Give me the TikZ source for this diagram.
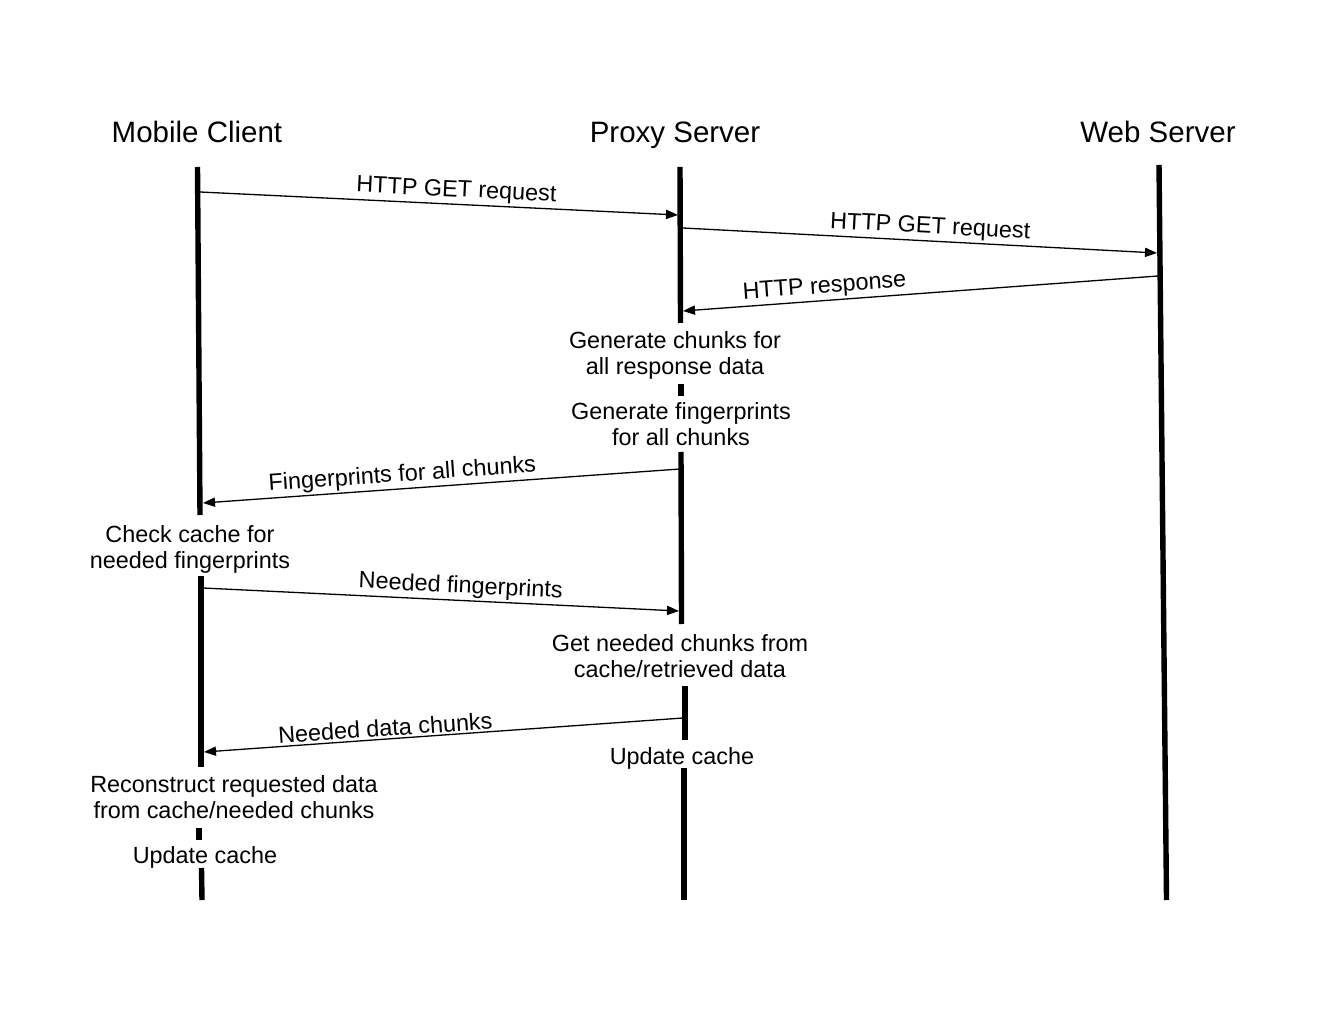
\documentclass[tikz,border=0pt]{standalone}
\usepackage{fontspec}
\setmainfont{Liberation Sans}
\usetikzlibrary{arrows.meta}
\begin{document}
\begin{tikzpicture}[x=0.5pt,y=-0.5pt,
  life/.style={line width=2.7pt},
  msg/.style={line width=0.65pt,-{Triangle[length=6pt,width=4.6pt]}},
  ttl/.style={font=\fontsize{14.75pt}{17pt}\selectfont, inner sep=0pt, anchor=base},
  lbl/.style={font=\fontsize{11.7pt}{13pt}\selectfont, sloped, above, inner sep=1pt},
  act/.style={font=\fontsize{11.7pt}{13pt}\selectfont, align=center, inner sep=0pt, anchor=north}]
\useasboundingbox (0,0) rectangle (1320,1020);

% titles
\node[ttl] (tc) at (197,143) {Mobile Client};
\node[ttl] (tp) at (675,143) {Proxy Server};
\node[ttl] (tw) at (1158,143) {Web Server};

% lifeline coordinates
\coordinate (c1a) at (197.5,167); \coordinate (c1b) at (200,515);
\coordinate (c2a) at (201,576);   \coordinate (c2b) at (201,767);
\coordinate (c3a) at (199,828);   \coordinate (c3b) at (199,840);
\coordinate (c4a) at (201.5,868); \coordinate (c4b) at (202,900);
\coordinate (p1a) at (680,167);   \coordinate (p1b) at (680.5,323);
\coordinate (p2a) at (681,384);   \coordinate (p2b) at (681,396);
\coordinate (p3a) at (681,452);   \coordinate (p3b) at (681.5,624);
\coordinate (p4a) at (685,686);   \coordinate (p4b) at (685,740);
\coordinate (p5a) at (684,768);   \coordinate (p5b) at (684,900);
\coordinate (w1a) at (1159,165);  \coordinate (w1b) at (1166.5,900);

\draw[life] (c1a) -- (c1b);
\draw[life] (c2a) -- (c2b);
\draw[life] (c3a) -- (c3b);
\draw[life] (c4a) -- (c4b);
\draw[life] (p1a) -- (p1b);
\draw[life] (p2a) -- (p2b);
\draw[life] (p3a) -- (p3b);
\draw[life] (p4a) -- (p4b);
\draw[life] (p5a) -- (p5b);
\draw[life] (w1a) -- (w1b);

% action texts
\node[act] (a1) at (675,331) {Generate chunks for\\all response data};
\node[act] (a2) at (681,402) {Generate fingerprints\\for all chunks};
\node[act] (a3) at (190,525) {Check cache for\\needed fingerprints};
\node[act] (a4) at (680,634) {Get needed chunks from\\cache/retrieved data};
\node[act] (a5) at (682,747) {Update cache};
\node[act] (a6) at (234,775) {Reconstruct requested data\\from cache/needed chunks};
\node[act] (a7) at (205,846) {Update cache};

% message endpoints
\coordinate (m1s) at (200,192);  \coordinate (m1e) at (678,215);
\coordinate (m2s) at (683,228);  \coordinate (m2e) at (1157,253);
\coordinate (m3s) at (1158,276); \coordinate (m3e) at (683,311);
\coordinate (m4s) at (680,469);  \coordinate (m4e) at (203,503);
\coordinate (m5s) at (203,588);  \coordinate (m5e) at (679,611);
\coordinate (m6s) at (683,718);  \coordinate (m6e) at (204,752);

\draw[msg] (m1s) -- node[lbl,pos=0.535] (l1) {HTTP GET request} (m1e);
\draw[msg] (m2s) -- node[lbl,pos=0.52] (l2) {HTTP GET request} (m2e);
\draw[msg] (m3s) -- node[lbl,pos=0.70] (l3) {HTTP response} (m3e);
\draw[msg] (m4s) -- node[lbl,pos=0.58] (l4) {Fingerprints for all chunks} (m4e);
\draw[msg] (m5s) -- node[lbl,pos=0.54] (l5) {Needed fingerprints} (m5e);
\draw[msg] (m6s) -- node[lbl,pos=0.62] (l6) {Needed data chunks} (m6e);
\end{tikzpicture}
\end{document}
